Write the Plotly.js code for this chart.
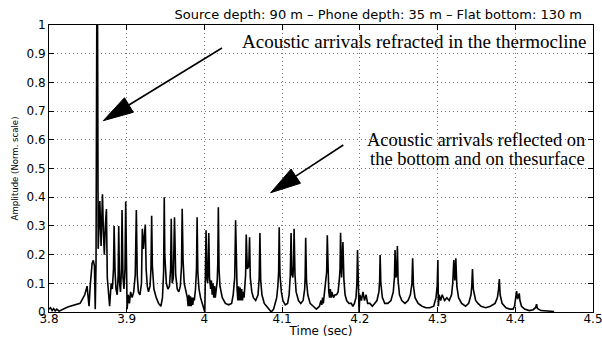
<!DOCTYPE html>
<html>
<head>
<meta charset="utf-8">
<script src="https://cdn.plot.ly/plotly-3.0.1.min.js"></script>
<style>html,body{margin:0;padding:0;background:#fff;}#chart{width:602px;height:338px;}</style>
</head>
<body>
<div id="chart"></div>
<script>
// Received signal: time (s) and normalized amplitude
var signalTime = [
  3.800, 3.802, 3.804, 3.806, 3.808, 3.810, 3.813, 3.816, 3.820, 3.825, 3.830, 3.835, 3.840, 3.843, 3.846, 3.849, 3.8515, 3.853, 3.8555, 3.857, 3.8585, 3.8595, 3.8605, 3.8615, 3.8625, 3.8633,
  3.8654, 3.8670, 3.8688, 3.8700, 3.8712, 3.8725, 3.8739, 3.8750, 3.8765, 3.8780, 3.8800, 3.8815, 3.8830, 3.8838, 3.8850, 3.8862, 3.8878, 3.8890, 3.8897, 3.8908, 3.8920, 3.8932, 3.8940, 3.8952, 3.8965, 3.8978, 3.8987, 3.8996, 3.9005,
  3.9020, 3.9035, 3.9050, 3.9070, 3.9090, 3.9110, 3.9124, 3.9135, 3.9150, 3.9170, 3.9190, 3.9201, 3.9215, 3.9239, 3.9250, 3.9265, 3.9280, 3.9300, 3.9312, 3.9321, 3.9330, 3.9350, 3.9380, 3.9410, 3.9440, 3.9460, 3.9475, 3.9483, 3.9490, 3.9510, 3.9530, 3.9550, 3.9565, 3.9573, 3.9585, 3.9600, 3.9615, 3.9630, 3.9650, 3.9670, 3.9690, 3.9705, 3.9714, 3.9725, 3.9740, 3.9760, 3.9780,
  3.9790, 3.9800, 3.9810, 3.9820, 3.9830, 3.9840, 3.9850, 3.9860, 3.9870, 3.9885, 3.9898, 3.9906, 3.9915, 3.9930, 3.9950, 3.9970, 3.9990, 4.0005, 4.0012, 4.0021, 4.0030, 4.0042, 4.0056, 4.0065, 4.0080, 4.0090, 4.0100, 4.0110, 4.0120, 4.0130, 4.0140, 4.0150, 4.0165, 4.0172, 4.0179, 4.0188, 4.0200, 4.0230, 4.0270, 4.0310, 4.0350, 4.0370, 4.0390, 4.0401, 4.0410, 4.0420,
  4.0430, 4.0440, 4.0450, 4.0460, 4.0470, 4.0480, 4.0490, 4.0500, 4.0510, 4.0520, 4.0530, 4.0538, 4.0552, 4.0570, 4.0581, 4.0590, 4.0610, 4.0630, 4.0660, 4.0690, 4.0705, 4.0714, 4.0724, 4.0740, 4.0770, 4.0800, 4.0830, 4.0860, 4.0890, 4.0910, 4.0930, 4.0945, 4.0955, 4.0962, 4.0972, 4.0990, 4.1010, 4.1040, 4.1070, 4.1090, 4.1105, 4.1115, 4.1125, 4.1138, 4.1146, 4.1154, 4.1165,
  4.1180, 4.1210, 4.1240, 4.1270, 4.1290, 4.1296, 4.1303, 4.1313, 4.1330, 4.1360, 4.1400, 4.1440, 4.1480, 4.1500, 4.1510, 4.1520, 4.1530, 4.1540, 4.1560, 4.1573, 4.1581, 4.1590, 4.1600, 4.1610, 4.1620, 4.1630, 4.1640, 4.1660, 4.1680, 4.1700, 4.1720, 4.1735, 4.1745, 4.1752, 4.1765, 4.1782, 4.1795, 4.1810, 4.1830, 4.1860, 4.1890, 4.1910, 4.1930, 4.1950, 4.1962, 4.1970, 4.1980, 4.1990, 4.2000, 4.2020, 4.2040, 4.2060, 4.2080, 4.2100, 4.2130, 4.2160, 4.2190, 4.2220, 4.2245, 4.2255, 4.2261, 4.2270,
  4.2290, 4.2320, 4.2360, 4.2400, 4.2430, 4.2445, 4.2453, 4.2463, 4.2475, 4.2483, 4.2492, 4.2510, 4.2540, 4.2580, 4.2620, 4.2650, 4.2670, 4.2679, 4.2690, 4.2710, 4.2750, 4.2800, 4.2850, 4.2900, 4.2950, 4.2980, 4.2995, 4.3004, 4.3010, 4.3020, 4.3040, 4.3060, 4.3090, 4.3120, 4.3150, 4.3180, 4.3195, 4.3209, 4.3222, 4.3235, 4.3248, 4.3270, 4.3310, 4.3360, 4.3400, 4.3430, 4.3440, 4.3449, 4.3460, 4.3490, 4.3520, 4.3560, 4.3620, 4.3680, 4.3740, 4.3770, 4.3785, 4.3795, 4.3805, 4.3830, 4.3880, 4.3930, 4.3970, 4.3990, 4.4000, 4.4017, 4.4030, 4.4051, 4.4060, 4.4080, 4.4120, 4.4180, 4.4230, 4.4260, 4.4274, 4.4285, 4.4330, 4.4400, 4.4450, 4.4500
];
var signalAmp = [
  0.010, 0.015, 0.005, 0.012, 0.004, 0.010, 0.003, 0.008, 0.012, 0.018, 0.022, 0.025, 0.030, 0.045, 0.060, 0.090, 0.020, 0.090, 0.170, 0.180, 0.160, 0.010, 0.170, 1.000, 1.000, 0.220,
  0.387, 0.230, 0.410, 0.280, 0.200, 0.300, 0.359, 0.120, 0.050, 0.020, 0.100, 0.080, 0.150, 0.300, 0.140, 0.080, 0.060, 0.130, 0.300, 0.100, 0.070, 0.150, 0.355, 0.120, 0.080, 0.150, 0.385, 0.200, 0.010,
  0.060, 0.030, 0.070, 0.050, 0.070, 0.130, 0.355, 0.130, 0.070, 0.060, 0.100, 0.290, 0.220, 0.305, 0.150, 0.090, 0.070, 0.090, 0.150, 0.335, 0.160, 0.080, 0.050, 0.030, 0.020, 0.050, 0.140, 0.400, 0.200, 0.100, 0.080, 0.090, 0.150, 0.325, 0.100, 0.120, 0.330, 0.130, 0.080, 0.070, 0.090, 0.160, 0.360, 0.180, 0.100, 0.070, 0.050,
  0.020, 0.060, 0.020, 0.055, 0.020, 0.050, 0.025, 0.050, 0.040, 0.080, 0.150, 0.330, 0.140, 0.080, 0.050, 0.030, 0.010, 0.000, 0.120, 0.285, 0.120, 0.100, 0.275, 0.120, 0.080, 0.110, 0.060, 0.100, 0.050, 0.090, 0.050, 0.080, 0.110, 0.170, 0.365, 0.150, 0.090, 0.050, 0.030, 0.025, 0.030, 0.060, 0.120, 0.320, 0.130, 0.080,
  0.040, 0.090, 0.040, 0.085, 0.040, 0.080, 0.040, 0.070, 0.050, 0.080, 0.130, 0.270, 0.150, 0.160, 0.260, 0.120, 0.070, 0.050, 0.040, 0.060, 0.120, 0.275, 0.110, 0.060, 0.030, 0.020, 0.010, 0.000, 0.010, 0.030, 0.050, 0.090, 0.140, 0.295, 0.130, 0.070, 0.040, 0.025, 0.030, 0.060, 0.130, 0.275, 0.130, 0.120, 0.160, 0.290, 0.130,
  0.070, 0.040, 0.030, 0.040, 0.080, 0.120, 0.259, 0.110, 0.060, 0.030, 0.020, 0.010, 0.020, 0.040, 0.025, 0.050, 0.030, 0.055, 0.090, 0.140, 0.267, 0.120, 0.070, 0.050, 0.080, 0.050, 0.070, 0.050, 0.060, 0.060, 0.070, 0.110, 0.150, 0.276, 0.120, 0.244, 0.110, 0.060, 0.040, 0.030, 0.030, 0.020, 0.030, 0.050, 0.100, 0.216, 0.080, 0.000, 0.060, 0.040, 0.070, 0.040, 0.060, 0.030, 0.030, 0.020, 0.030, 0.040, 0.070, 0.110, 0.199, 0.100,
  0.050, 0.030, 0.030, 0.040, 0.070, 0.120, 0.216, 0.120, 0.130, 0.230, 0.110, 0.060, 0.040, 0.030, 0.040, 0.060, 0.100, 0.187, 0.090, 0.050, 0.030, 0.020, 0.015, 0.015, 0.020, 0.050, 0.090, 0.181, 0.020, 0.060, 0.040, 0.060, 0.040, 0.050, 0.040, 0.060, 0.100, 0.181, 0.110, 0.187, 0.090, 0.050, 0.030, 0.020, 0.030, 0.060, 0.090, 0.150, 0.080, 0.040, 0.030, 0.020, 0.015, 0.020, 0.030, 0.050, 0.080, 0.115, 0.060, 0.030, 0.015, 0.010, 0.010, 0.020, 0.040, 0.073, 0.045, 0.065, 0.040, 0.020, 0.010, 0.005, 0.008, 0.015, 0.027, 0.012, 0.005, 0.004, 0.003, 0.002
];

var xTickVals = [3.8, 3.9, 4.0, 4.1, 4.2, 4.3, 4.4, 4.5];
var xTickText = ['3.8', '3.9', '4', '4.1', '4.2', '4.3', '4.4', '4.5'];
var yTickVals = [0, 0.1, 0.2, 0.3, 0.4, 0.5, 0.6, 0.7, 0.8, 0.9, 1];
var yTickText = ['0', '0.1', '0.2', '0.3', '0.4', '0.5', '0.6', '0.7', '0.8', '0.9', '1'];

var chartTitle = 'Source depth: 90 m \u2013 Phone depth: 35 m \u2013 Flat bottom: 130 m';
var xTitle = 'Time (sec)';
var yTitle = 'Amplitude (Norm. scale)';
var noteRefracted = 'Acoustic arrivals refracted in the thermocline';
var noteReflected1 = 'Acoustic arrivals reflected on';
var noteReflected2 = 'the bottom and on thesurface';

var sansFont = 'DejaVu Sans, Liberation Sans, sans-serif';
var serifFont = 'Liberation Serif, Times New Roman, serif';

var trace = {
  x: signalTime,
  y: signalAmp,
  type: 'scatter',
  mode: 'lines',
  line: {color: '#000', width: 1.6},
  hoverinfo: 'skip'
};

function axisCommon() {
  return {
    showline: true, linecolor: '#000', linewidth: 1, mirror: 'ticks',
    ticks: 'inside', ticklen: 5, tickwidth: 1, tickcolor: '#000',
    showgrid: true, gridcolor: '#777', gridwidth: 1, griddash: '1px,3px',
    zeroline: false, fixedrange: true, ticklabeloverflow: 'allow',
    tickfont: {family: sansFont, size: 12, color: '#000'}
  };
}

var xaxis = axisCommon();
xaxis.range = [3.8, 4.5];
xaxis.tickmode = 'array';
xaxis.tickvals = xTickVals;
xaxis.ticktext = xTickText;
xaxis.ticklabelstandoff = -4;
xaxis.title = {text: xTitle, font: {family: sansFont, size: 12, color: '#000'}, standoff: 0};

var yaxis = axisCommon();
yaxis.range = [0, 1];
yaxis.tickmode = 'array';
yaxis.tickvals = yTickVals;
yaxis.ticktext = yTickText;
yaxis.title = {text: yTitle, font: {family: 'Liberation Sans Narrow, DejaVu Sans Condensed, sans-serif', size: 9.5, color: '#000'}, standoff: 6};

function arrowShapes(tail, base, tip, c1, c2) {
  return [
    {type: 'line', xref: 'paper', yref: 'paper', x0: tail[0], y0: tail[1], x1: base[0], y1: base[1], line: {color: '#000', width: 1.6}},
    {type: 'path', xref: 'paper', yref: 'paper',
     path: 'M' + tip[0] + ',' + tip[1] + ' L' + c1[0] + ',' + c1[1] + ' L' + c2[0] + ',' + c2[1] + ' Z',
     fillcolor: '#000', line: {color: '#000', width: 1}}
  ];
}

var shapes = [].concat(
  arrowShapes([0.3180, 0.9199], [0.1469, 0.7213], [0.0998, 0.6666], [0.1550, 0.6958], [0.1388, 0.7467]),
  arrowShapes([0.5410, 0.5819], [0.4537, 0.4732], [0.4075, 0.4157], [0.4623, 0.4484], [0.4450, 0.4979])
);

var annotations = [
  {text: noteRefracted, xref: 'paper', yref: 'paper', x: 0.671, y: 0.9408, xanchor: 'center', yanchor: 'middle', showarrow: false,
   font: {family: serifFont, size: 19, color: '#000'}},
  {text: noteReflected1, xref: 'paper', yref: 'paper', x: 0.785, y: 0.5993, xanchor: 'center', yanchor: 'middle', showarrow: false,
   font: {family: serifFont, size: 18.5, color: '#000'}},
  {text: noteReflected2, xref: 'paper', yref: 'paper', x: 0.7868, y: 0.5331, xanchor: 'center', yanchor: 'middle', showarrow: false,
   font: {family: serifFont, size: 18.5, color: '#000'}}
];

var layout = {
  width: 602, height: 338,
  margin: {l: 49, r: 9, t: 25, b: 26, pad: 0},
  paper_bgcolor: '#fff', plot_bgcolor: '#fff',
  showlegend: false,
  title: {text: chartTitle, font: {family: sansFont, size: 13, color: '#000'},
          xref: 'paper', x: 0.9798, xanchor: 'right', yref: 'container', y: 0.9586, yanchor: 'middle'},
  xaxis: xaxis, yaxis: yaxis,
  shapes: shapes,
  annotations: annotations
};

Plotly.newPlot('chart', [trace], layout, {displayModeBar: false, staticPlot: true});
</script>
</body>
</html>
